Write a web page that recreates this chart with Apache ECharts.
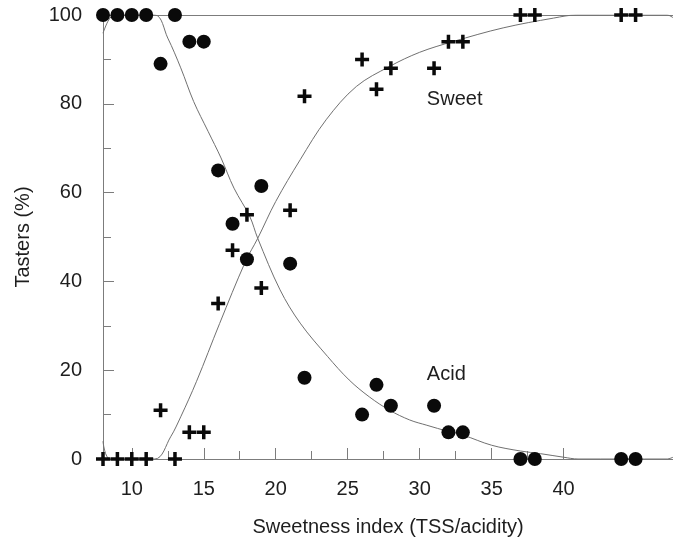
<!DOCTYPE html>
<html>
<head>
<meta charset="utf-8">
<script src="https://cdn.jsdelivr.net/npm/echarts@6/dist/echarts.min.js"></script>
<style>
  html, body { margin: 0; padding: 0; background: #fff; }
  #chart { width: 673px; height: 538px; }
</style>
</head>
<body>
<div id="chart"></div>
<script>
// Sweetness index of each sample
const sweetnessIndex = [8, 9, 10, 11, 13, 12, 14, 15, 16, 17, 18, 19, 21, 22, 26, 27, 28, 31, 32, 33, 37, 38, 44, 45];
// Share of tasters (%) who rated the sample acid
const acidPct = [100, 100, 100, 100, 100, 89, 94, 94, 65, 53, 45, 61.5, 44, 18.3, 10, 16.7, 12, 12, 6, 6, 0, 0, 0, 0];
// Share of tasters (%) who rated the sample sweet
const sweetPct = [0, 0, 0, 0, 0, 11, 6, 6, 35, 47, 55, 38.5, 56, 81.7, 90, 83.3, 88, 88, 94, 94, 100, 100, 100, 100];

// Fitted response curves: [sweetness index, %]
const acidFit = [
  [8, 95.9], [8.4, 98.9], [8.8, 100], [11.6, 100], [12.5, 94.8], [13.4, 88.1], [14.3, 80.5],
  [15.3, 73.8], [16.2, 67.8], [17.1, 61.0], [18.2, 54.6], [18.75, 49.7], [20.3, 38.1],
  [21.7, 30.6], [23.6, 23.1], [25.1, 17.8], [26.5, 14.0], [27.9, 11.0], [29.3, 8.8],
  [30.5, 7.6], [32, 6.2], [33, 5.4], [35, 3.1], [37, 1.8], [38.4, 1.2], [40, 0.4],
  [41, 0], [47.2, 0], [47.6, 0.4]
];
const sweetFit = [
  [8, 4.0], [8.5, 0], [11.6, 0], [12.7, 5.0], [13.4, 9.5], [14.5, 17.5], [16.1, 30.5],
  [17.9, 44.5], [18.75, 49.7], [20, 58], [21.7, 67.4], [23.5, 76.4], [25.6, 83.9],
  [27.9, 88.4], [30, 91.6], [32.3, 94], [35.8, 97.1], [39.3, 99.3], [40.9, 100],
  [47.2, 100], [47.6, 99.4]
];

// Axis ticks and labels
const xMajor = [10, 15, 20, 25, 30, 35, 40];
const xMinor = [12.5, 17.5, 22.5, 27.5, 32.5, 37.5];
const curveNames = [['Sweet', 30.5, 80.9], ['Acid', 30.5, 19.0]];

const pts = (xs, ys) => xs.map((x, i) => [x, ys[i]]);

const axisColor = '#7c7c7c';
const textColor = '#1e1e1e';
const font = 'Liberation Sans, Arial, Helvetica, sans-serif';

const plusPath = 'path://M3,0H5V3H8V5H5V8H3V5H0V3H3Z';

const chart = echarts.init(document.getElementById('chart'), null, { renderer: 'canvas' });

const xBase = { type: 'value', min: 8, max: 47.6, splitLine: { show: false } };
const yBase = { type: 'value', min: 0, max: 100, splitLine: { show: false } };

chart.setOption({
  animation: false,
  backgroundColor: '#fff',
  grid: { left: 103, right: 0, top: 15, bottom: 79, containLabel: false, outerBoundsMode: 'none' },
  xAxis: [
    Object.assign({}, xBase, {
      position: 'bottom',
      name: 'Sweetness index (TSS/acidity)',
      nameLocation: 'middle',
      nameGap: 58,
      nameTextStyle: { fontSize: 20, color: textColor, fontFamily: font },
      axisLine: { show: true, onZero: false, lineStyle: { color: axisColor, width: 1 } },
      axisTick: { show: true, inside: true, length: 11, customValues: xMajor, lineStyle: { color: axisColor, width: 1 } },
      axisLabel: { show: true, customValues: xMajor, margin: 20, fontSize: 20, color: textColor, fontFamily: font }
    }),
    Object.assign({}, xBase, {
      position: 'bottom',
      axisLine: { show: false },
      axisTick: { show: true, inside: true, length: 8, customValues: xMinor, lineStyle: { color: axisColor, width: 1 } },
      axisLabel: { show: false }
    }),
    Object.assign({}, xBase, {
      position: 'top',
      axisLine: { show: true, onZero: false, lineStyle: { color: axisColor, width: 1 } },
      axisTick: { show: false },
      axisLabel: { show: false }
    })
  ],
  yAxis: [
    Object.assign({}, yBase, {
      position: 'left',
      interval: 20,
      name: 'Tasters (%)',
      nameLocation: 'middle',
      nameGap: 70,
      nameTextStyle: { fontSize: 20, color: textColor, fontFamily: font },
      axisLine: { show: true, onZero: false, lineStyle: { color: axisColor, width: 1 } },
      axisTick: { show: true, inside: true, length: 11, lineStyle: { color: axisColor, width: 1 } },
      minorTick: { show: true, splitNumber: 2, length: 8, lineStyle: { color: axisColor, width: 1 } },
      axisLabel: { show: true, margin: 21, fontSize: 20, color: textColor, fontFamily: font }
    })
  ],
  series: [
    {
      name: 'Acid fit', type: 'line', xAxisIndex: 0, yAxisIndex: 0,
      data: acidFit, smooth: 0.35, showSymbol: false, silent: true,
      lineStyle: { color: '#707070', width: 1 }, z: 2
    },
    {
      name: 'Sweet fit', type: 'line', xAxisIndex: 0, yAxisIndex: 0,
      data: sweetFit, smooth: 0.35, showSymbol: false, silent: true,
      lineStyle: { color: '#707070', width: 1 }, z: 2
    },
    {
      name: 'Acid', type: 'scatter', xAxisIndex: 0, yAxisIndex: 0, clip: false,
      data: pts(sweetnessIndex, acidPct), symbol: 'circle', symbolSize: 14,
      itemStyle: { color: '#0a0a0a', opacity: 1 }, z: 3
    },
    {
      name: 'Sweet', type: 'scatter', xAxisIndex: 0, yAxisIndex: 0, clip: false,
      data: pts(sweetnessIndex, sweetPct), symbol: plusPath, symbolSize: 14,
      itemStyle: { color: '#0a0a0a', opacity: 1 }, z: 3
    },
    {
      name: 'Curve names', type: 'scatter', xAxisIndex: 0, yAxisIndex: 0, silent: true,
      data: curveNames.map(d => ({ value: [d[1], d[2]], name: d[0] })),
      symbolSize: 0, itemStyle: { opacity: 1 },
      label: {
        show: true, position: 'right', distance: 0, formatter: p => p.name,
        fontSize: 20, color: textColor, fontFamily: font, align: 'left', verticalAlign: 'middle'
      }
    }
  ]
});
</script>
</body>
</html>
